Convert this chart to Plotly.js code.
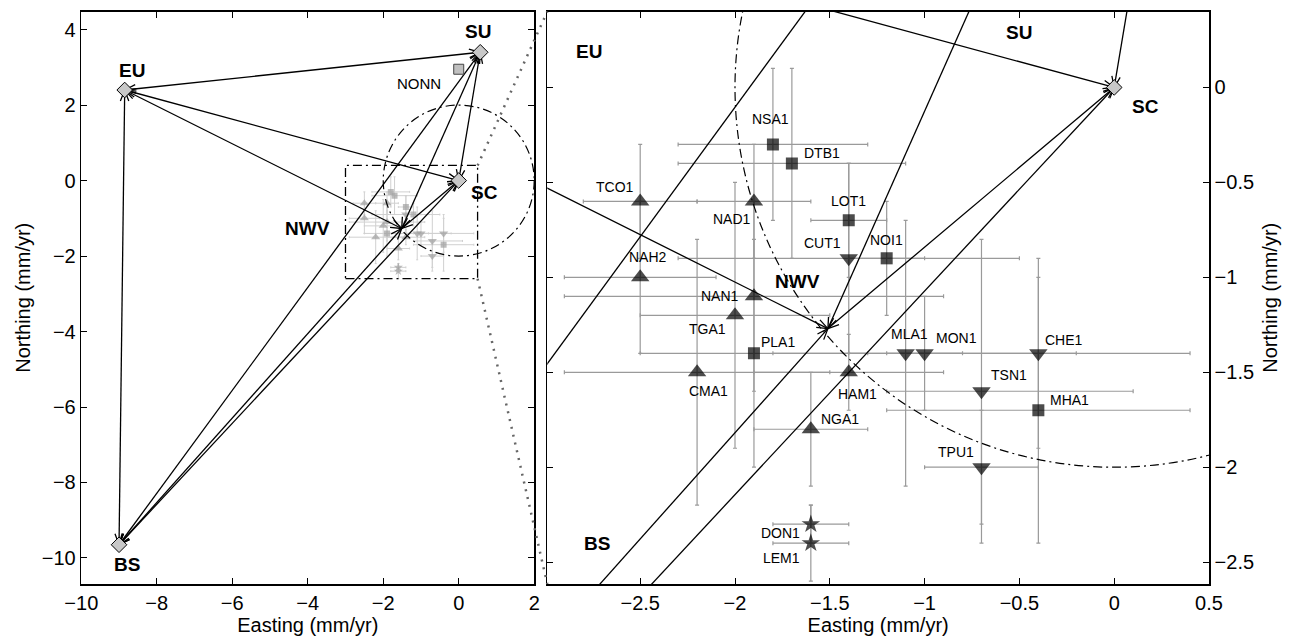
<!DOCTYPE html>
<html><head><meta charset="utf-8">
<script src="https://cdn.plot.ly/plotly-3.0.1.min.js"></script>
<style>body{margin:0;background:#fff}#chart{width:1297px;height:639px}</style>
</head><body><div id="chart"></div>
<script>
// ---------- DATA ----------
// block / plate velocities (Easting, Northing in mm/yr)
const plateNames = ['EU', 'SU', 'SC', 'BS', 'NWV'];
const plateEast  = [-8.85, 0.57, 0.0, -9.0, -1.51];
const plateNorth = [2.4, 3.4, 0.0, -9.65, -1.27];
const plateHasDiamond = [true, true, true, true, false];
// relative-velocity vectors (double headed)
const pairFrom = ['EU', 'EU', 'EU', 'EU', 'SU', 'SU', 'SU', 'SC', 'SC', 'NWV'];
const pairTo   = ['SU', 'SC', 'NWV', 'BS', 'SC', 'NWV', 'BS', 'NWV', 'BS', 'BS'];
// reference station NONN
const nonnEast = [0.0];
const nonnNorth = [2.95];
// GPS stations
const stations = ['TCO1','NAH2','NSA1','DTB1','NAD1','LOT1','CUT1','NOI1','NAN1','TGA1','PLA1',
                  'CMA1','HAM1','NGA1','DON1','LEM1','MLA1','MON1','CHE1','TSN1','MHA1','TPU1'];
const stEast  = [-2.5,-2.5,-1.8,-1.7,-1.9,-1.4,-1.4,-1.2,-1.9,-2.0,-1.9,
                 -2.2,-1.4,-1.6,-1.6,-1.6,-1.1,-1.0,-0.4,-0.7,-0.4,-0.7];
const stNorth = [-0.6,-1.0,-0.3,-0.4,-0.6,-0.7,-0.9,-0.9,-1.1,-1.2,-1.4,
                 -1.5,-1.5,-1.8,-2.3,-2.4,-1.4,-1.4,-1.4,-1.6,-1.7,-2.0];
const stEastErrPlus  = [0.3,0.4,0.5,0.6,0.3,0.2,0.9,0.2,1.0,0.5,0.6,0.7,0.5,0.3,0.2,0.2,0.3,0.8,0.8,0.8,0.8,0.3];
const stEastErrMinus = [0.3,0.4,0.5,0.6,0.3,0.2,0.9,0.2,1.0,0.5,0.6,0.7,0.5,0.3,0.2,0.2,0.3,0.8,0.8,0.5,0.8,0.3];
const stNorthErr     = [0.3,0.4,0.4,0.5,0.3,0.3,0.5,0.3,0.5,0.7,0.6,0.7,0.2,0.3,0.1,0.2,0.7,0.3,0.5,0.8,0.7,0.3];
const stType = ['up','up','square','square','up','square','down','square','up','up','square',
                'up','up','up','star','star','down','down','down','down','square','down'];
// uncertainty circle of SC and zoom window
const circleCenter = [0, 0];
const circleRadius = 2;
const zoomEast = [-3, 0.5];
const zoomNorth = [-2.6, 0.4];

// ---------- LAYOUT GEOMETRY ----------
const W = 1297, H = 639;
const leftXDom = [81.3 / W, 534.2 / W];
const rightXDom = [547.3 / W, 1209 / W];
const yDom = [1 - 584 / H, 1 - 11.5 / H];
const leftXR = [-10, 2], leftYR = [-10.69, 4.48];
const rightXR = [-2.99, 0.5], rightYR = [-2.615, 0.4];

// label placement (layout only)
const leftLabelPos = {EU: [-8.67, 2.93], SU: [0.51, 3.94], SC: [0.67, -0.32], NWV: [-4.0, -1.26], BS: [-8.8, -10.16]};
const rightLabelPos = {EU: [-2.77, 0.19], SU: [-0.5, 0.29], SC: [0.167, -0.10], NWV: [-1.67, -1.02], BS: [-2.73, -2.40]};
const stLabelShift = {TCO1:[-25,14],NAH2:[8,20],NSA1:[-2,25],DTB1:[30,10],NAD1:[-22,-18],LOT1:[0,19],
  CUT1:[-26,15],NOI1:[0,18],NAN1:[-34,0],TGA1:[-28,-14],PLA1:[24,11],CMA1:[11,-19],HAM1:[9,-22],
  NGA1:[29,10],DON1:[-30,-9],LEM1:[-29,-15],MLA1:[4,19],MON1:[32,15],CHE1:[26,13],TSN1:[28,16],
  MHA1:[31,10],TPU1:[-25,15]};

const symMap = {up: 'triangle-up', down: 'triangle-down', square: 'square', star: 'star'};
const symSize = {up: 16, down: 16, square: 12, star: 14};

function idx(n) { return plateNames.indexOf(n); }
function scales(xd, xr, yd, yr) {
  return {sx: (xd[1] - xd[0]) * W / (xr[1] - xr[0]), sy: (yd[1] - yd[0]) * H / (yr[1] - yr[0])};
}

function vectorTraces(xa, ya, sc) {
  const lx = [], ly = [], hx = [], hy = [];
  const L = 11, Wd = 4.2;
  for (let k = 0; k < pairFrom.length; k++) {
    const a = idx(pairFrom[k]), b = idx(pairTo[k]);
    lx.push(plateEast[a], plateEast[b], null);
    ly.push(plateNorth[a], plateNorth[b], null);
    [[b, a], [a, b]].forEach(([p, o]) => {
      const dx = (plateEast[p] - plateEast[o]) * sc.sx;
      const dy = -(plateNorth[p] - plateNorth[o]) * sc.sy;
      const len = Math.hypot(dx, dy);
      const ux = dx / len, uy = dy / len, nx = -uy, ny = ux;
      const p1x = -L * ux + Wd * nx, p1y = -L * uy + Wd * ny;
      const p2x = -L * ux - Wd * nx, p2y = -L * uy - Wd * ny;
      hx.push(plateEast[p] + p1x / sc.sx, plateEast[p], plateEast[p] + p2x / sc.sx, null);
      hy.push(plateNorth[p] - p1y / sc.sy, plateNorth[p], plateNorth[p] - p2y / sc.sy, null);
    });
  }
  return [
    {x: lx, y: ly, xaxis: xa, yaxis: ya, mode: 'lines', line: {color: '#000', width: 1.3}, hoverinfo: 'skip'},
    {x: hx, y: hy, xaxis: xa, yaxis: ya, mode: 'lines', line: {color: '#000', width: 1.3}, hoverinfo: 'skip'}
  ];
}

const scL = scales(leftXDom, leftXR, yDom, leftYR);
const scR = scales(rightXDom, rightXR, yDom, rightYR);

const diamondIdx = plateNames.map((n, i) => i).filter(i => plateHasDiamond[i]);
function diamondTrace(xa, ya) {
  return {x: diamondIdx.map(i => plateEast[i]), y: diamondIdx.map(i => plateNorth[i]), xaxis: xa, yaxis: ya,
    mode: 'markers', marker: {symbol: 'diamond', size: 12, color: '#c8c8c8', line: {color: '#000', width: 1}},
    hoverinfo: 'skip'};
}
function errTrace(xa, ya, col, th, wd) {
  return {x: stEast, y: stNorth, xaxis: xa, yaxis: ya, mode: 'markers',
    marker: {size: 1, color: 'rgba(0,0,0,0)'},
    error_x: {type: 'data', symmetric: false, array: stEastErrPlus, arrayminus: stEastErrMinus, color: col, thickness: th, width: wd},
    error_y: {type: 'data', array: stNorthErr, color: col, thickness: th, width: wd}, hoverinfo: 'skip'};
}
function markTrace(xa, ya, col, f) {
  return {x: stEast, y: stNorth, xaxis: xa, yaxis: ya, mode: 'markers',
    marker: {symbol: stType.map(t => symMap[t]), size: stType.map(t => symSize[t] * f), color: col, line: {width: 0}},
    hoverinfo: 'skip'};
}

const traces = [];
// left panel
traces.push(errTrace('x', 'y', '#d0d0d0', 1, 1));
traces.push(markTrace('x', 'y', '#a0a0a0', 0.5));
traces.push(...vectorTraces('x', 'y', scL));
traces.push({x: nonnEast, y: nonnNorth, xaxis: 'x', yaxis: 'y', mode: 'markers',
  marker: {symbol: 'square', size: 10, color: '#c0c0c0', line: {color: '#444', width: 1}}, hoverinfo: 'skip'});
traces.push(diamondTrace('x', 'y'));
// right panel
traces.push(errTrace('x2', 'y2', '#9a9a9a', 1.2, 2));
traces.push(...vectorTraces('x2', 'y2', scR));
traces.push(markTrace('x2', 'y2', '#000', 1));
traces.push(diamondTrace('x2', 'y2'));

// ---------- annotations ----------
const annotations = [];
const boldFont = {family: 'Liberation Sans, Arial, sans-serif', size: 19, color: '#000', weight: 'bold'};
Object.keys(leftLabelPos).forEach(n => annotations.push({x: leftLabelPos[n][0], y: leftLabelPos[n][1], xref: 'x', yref: 'y',
  text: '<b>' + n + '</b>', showarrow: false, font: boldFont}));
Object.keys(rightLabelPos).forEach(n => annotations.push({x: rightLabelPos[n][0], y: rightLabelPos[n][1], xref: 'x2', yref: 'y2',
  text: '<b>' + n + '</b>', showarrow: false, font: boldFont}));
annotations.push({x: nonnEast[0], y: nonnNorth[0], xref: 'x', yref: 'y', text: 'NONN', showarrow: false,
  xshift: -40, yshift: -14, font: {family: 'Liberation Sans, Arial, sans-serif', size: 15, color: '#000'}});
stations.forEach((s, i) => annotations.push({x: stEast[i], y: stNorth[i], xref: 'x2', yref: 'y2', text: s, showarrow: false,
  xshift: stLabelShift[s][0], yshift: stLabelShift[s][1], font: {family: 'Liberation Sans, Arial, sans-serif', size: 14, color: '#000'}}));

// ---------- shapes ----------
const dashDot = '9px,4px,2px,4px';
function toPaper(xd, xr, yd, yr, x, y) {
  return [xd[0] + (x - xr[0]) / (xr[1] - xr[0]) * (xd[1] - xd[0]), yd[0] + (y - yr[0]) / (yr[1] - yr[0]) * (yd[1] - yd[0])];
}
const shapes = [];
[['x', 'y'], ['x2', 'y2']].forEach(([xr, yr]) => shapes.push({type: 'circle', xref: xr, yref: yr,
  x0: circleCenter[0] - circleRadius, x1: circleCenter[0] + circleRadius,
  y0: circleCenter[1] - circleRadius, y1: circleCenter[1] + circleRadius,
  line: {color: '#000', width: 1.2, dash: dashDot}}));
shapes.push({type: 'rect', xref: 'x', yref: 'y', x0: zoomEast[0], x1: zoomEast[1], y0: zoomNorth[0], y1: zoomNorth[1],
  line: {color: '#000', width: 1.3, dash: dashDot}});
const cTop0 = toPaper(leftXDom, leftXR, yDom, leftYR, zoomEast[1], zoomNorth[1]);
const cBot0 = toPaper(leftXDom, leftXR, yDom, leftYR, zoomEast[1], zoomNorth[0]);
const cTop1 = [rightXDom[0], yDom[1]];
const cBot1 = [rightXDom[0], yDom[0]];
[[cTop0, cTop1], [cBot0, cBot1]].forEach(([p, q]) => shapes.push({type: 'line', xref: 'paper', yref: 'paper',
  x0: p[0], y0: p[1], x1: q[0], y1: q[1], line: {color: '#666', width: 2.5, dash: '2px,6px'}}));

// ---------- axes ----------
const tickFont = {family: 'Liberation Sans, Arial, sans-serif', size: 20, color: '#000'};
const titleFont = {family: 'Liberation Sans, Arial, sans-serif', size: 20, color: '#000'};
function axis(extra) {
  return Object.assign({showgrid: false, zeroline: false, showline: true, linecolor: '#000', linewidth: 1.6,
    mirror: 'ticks', ticks: 'inside', ticklen: 6, tickwidth: 1, tickcolor: '#000', tickfont: tickFont,
    automargin: false, fixedrange: true}, extra);
}
const layout = {
  width: W, height: H, margin: {l: 0, r: 0, t: 0, b: 0}, showlegend: false,
  paper_bgcolor: '#fff', plot_bgcolor: '#fff',
  font: {family: 'Liberation Sans, Arial, sans-serif', color: '#000'},
  xaxis: axis({domain: leftXDom, range: leftXR, tick0: 0, dtick: 2, anchor: 'y',
    title: {text: 'Easting (mm/yr)', font: titleFont, standoff: 4}}),
  yaxis: axis({domain: yDom, range: leftYR, tick0: 0, dtick: 2, anchor: 'x',
    title: {text: 'Northing (mm/yr)', font: titleFont, standoff: 6}}),
  xaxis2: axis({domain: rightXDom, range: rightXR, tick0: 0, dtick: 0.5, anchor: 'y2',
    title: {text: 'Easting (mm/yr)', font: titleFont, standoff: 4}}),
  yaxis2: axis({domain: yDom, range: rightYR, tick0: 0, dtick: 0.5, anchor: 'x2', side: 'right',
    title: {text: 'Northing (mm/yr)', font: titleFont, standoff: 10}}),
  annotations: annotations, shapes: shapes
};
Plotly.newPlot('chart', traces, layout, {staticPlot: true, displayModeBar: false});
</script>
</body></html>
